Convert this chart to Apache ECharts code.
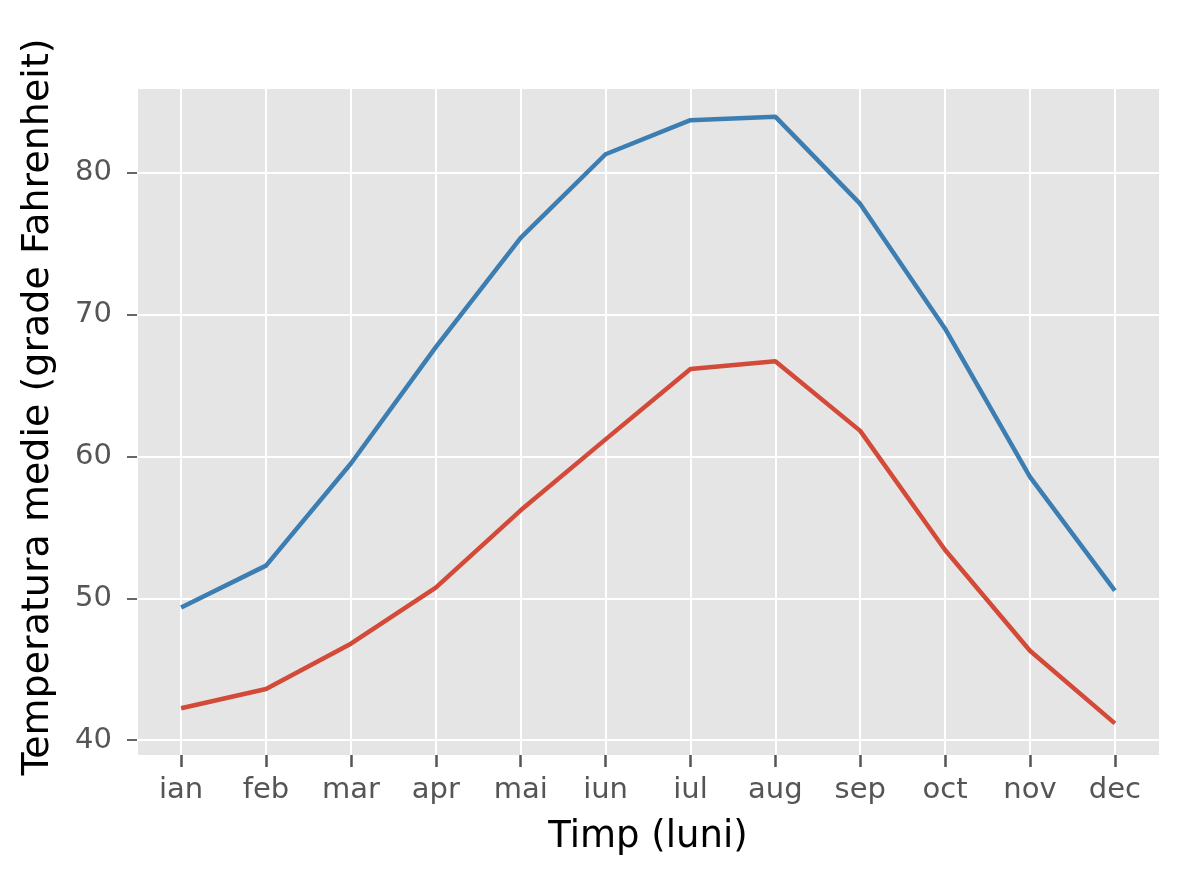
<!DOCTYPE html>
<html>
<head>
<meta charset="utf-8">
<script src="https://cdn.jsdelivr.net/npm/echarts@6/dist/echarts.min.js"></script>
<style>html,body{margin:0;padding:0;background:#fff}#c{width:1192px;height:880px}</style>
</head>
<body>
<div id="c"></div>
<script>
const months = ['ian','feb','mar','apr','mai','iun','iul','aug','sep','oct','nov','dec'];
const highTemps = [49.35, 52.3, 59.5, 67.7, 75.4, 81.3, 83.7, 83.95, 77.8, 69.0, 58.56, 50.54];
const lowTemps = [42.25, 43.6, 46.8, 50.75, 56.2, 61.2, 66.16, 66.7, 61.8, 53.4, 46.3, 41.18];
const yTicks = [40, 50, 60, 70, 80];

const font = 'DejaVu Sans';
const chart = echarts.init(document.getElementById('c'));
const xIdx = months.map((m, i) => i);
chart.setOption({
  animation: false,
  backgroundColor: '#ffffff',
  grid: {left: 137, right: 33, top: 89, bottom: 125, show: true, backgroundColor: '#E5E5E5', borderWidth: 0},
  xAxis: {
    type: 'value', min: -0.52, max: 11.52,
    name: 'Timp (luni)', nameLocation: 'middle', nameGap: 64,
    nameTextStyle: {fontFamily: font, fontSize: 37, color: '#000'},
    axisLine: {show: true, onZero: false, lineStyle: {color: '#ffffff', width: 1}},
    axisTick: {show: true, length: 12, customValues: xIdx, lineStyle: {color: '#555555', width: 2.5}},
    axisLabel: {customValues: xIdx, margin: 21, fontFamily: font, fontSize: 29, color: '#555',
      formatter: v => months[Math.round(v)]},
    splitLine: {show: true, lineStyle: {color: '#ffffff', width: 2}}
  },
  yAxis: {
    type: 'value', min: 38.95, max: 85.9,
    name: 'Temperatura medie (grade Fahrenheit)', nameLocation: 'middle', nameGap: 80,
    nameTextStyle: {fontFamily: font, fontSize: 38, color: '#000', padding: [0, 0, 0, 30]},
    axisLine: {show: true, onZero: false, lineStyle: {color: '#ffffff', width: 1}},
    axisTick: {show: true, length: 10, customValues: yTicks, lineStyle: {color: '#666666', width: 2}},
    axisLabel: {customValues: yTicks, margin: 25, fontFamily: font, fontSize: 29, color: '#555'},
    splitLine: {show: true, lineStyle: {color: '#ffffff', width: 2}}
  },
  series: [
    {type: 'line', data: highTemps.map((v, i) => [i, v]), showSymbol: false, lineStyle: {color: '#3D7EB2', width: 4.5}, itemStyle: {color: '#3D7EB2'}},
    {type: 'line', data: lowTemps.map((v, i) => [i, v]), showSymbol: false, lineStyle: {color: '#D34A38', width: 4.5}, itemStyle: {color: '#D34A38'}}
  ]
});
</script>
</body>
</html>
